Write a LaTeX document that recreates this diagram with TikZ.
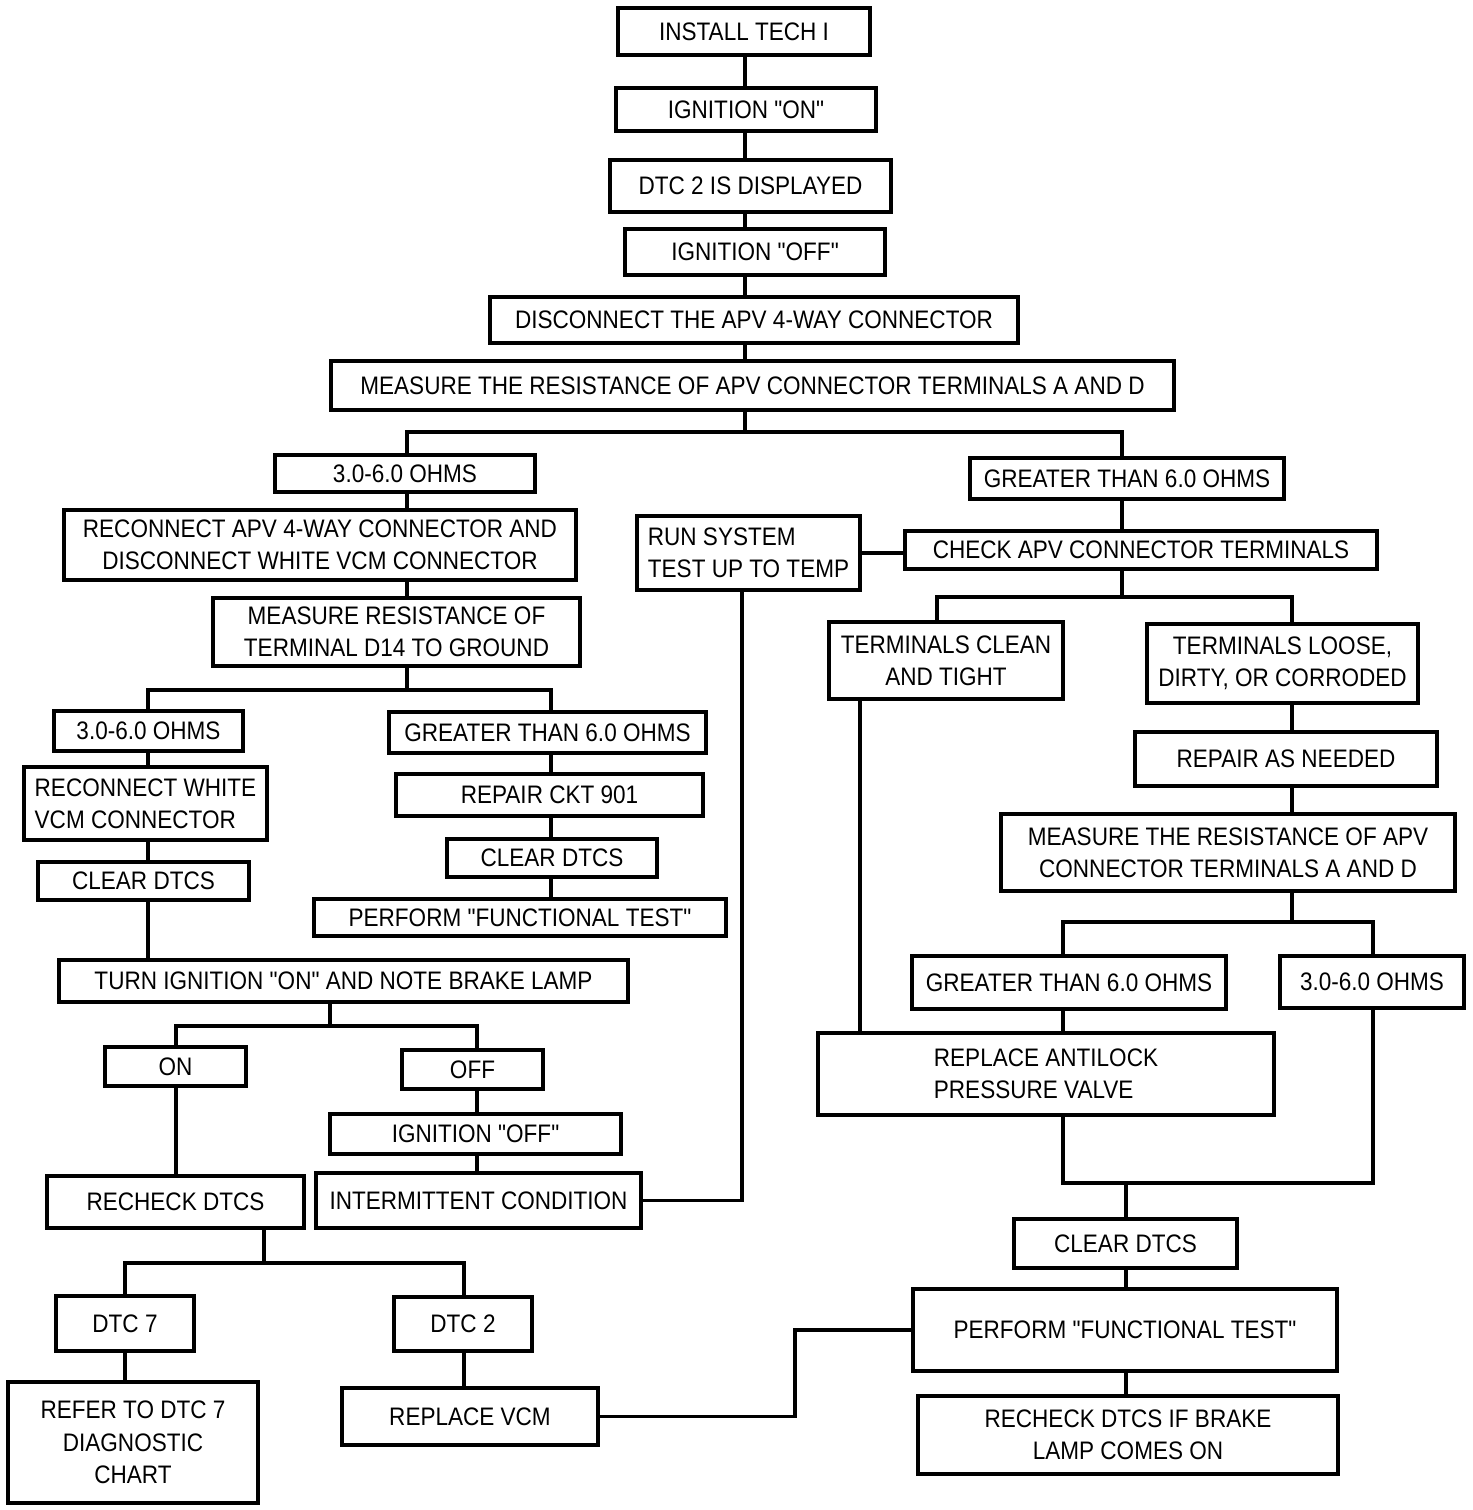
\documentclass[tikz,border=0pt]{standalone}
\usepackage{fontspec}
\newfontfamily\flowfont[FakeStretch=0.89]{Liberation Sans}
\begin{document}
\begin{tikzpicture}[x=0.01cm, y=-0.01cm,
    blk/.style={draw, line width=0.9pt, inner sep=1pt, align=center, font=\flowfont\fontsize{7.2}{9.2}\selectfont},
    wh/.style 2 args={minimum width=#1*0.01cm, minimum height=#2*0.01cm},
    ln/.style={line width=0.9pt}
  ]
  \useasboundingbox (0,0) rectangle (1472,1510);
  % main column
  \node[blk, wh={252}{47}] (install) at (744,31.5) {INSTALL TECH I};
  \node[blk, wh={260}{43}] (ignon) at (746,109.5) {IGNITION "ON"};
  \node[blk, wh={281}{52}] (dtcshown) at (750.5,186) {DTC 2 IS DISPLAYED};
  \node[blk, wh={260}{46}] (ignoff) at (755,252) {IGNITION "OFF"};
  \node[blk, wh={528}{46}] (disconn) at (754,320) {DISCONNECT THE APV 4-WAY CONNECTOR};
  \node[blk, wh={843}{49}] (measad) at (752.5,385.5) {MEASURE THE RESISTANCE OF APV CONNECTOR TERMINALS A AND D};
  % left branch
  \node[blk, wh={260}{37}] (lowa) at (405,473.5) {3.0-6.0 OHMS};
  \node[blk, wh={512}{70}] (reconapv) at (320,545) {RECONNECT APV 4-WAY CONNECTOR AND\\DISCONNECT WHITE VCM CONNECTOR};
  \node[blk, wh={367}{68}] (measd) at (396.5,632) {MEASURE RESISTANCE OF\\TERMINAL D14 TO GROUND};
  \node[blk, wh={189}{40}] (lowb) at (148.5,731) {3.0-6.0 OHMS};
  \node[blk, wh={317}{41}] (highb) at (547.5,732.5) {GREATER THAN 6.0 OHMS};
  \node[blk, wh={243}{73}, align=left] (reconvcm) at (145.5,803.5) {RECONNECT WHITE\\VCM CONNECTOR};
  \node[blk, wh={307}{42}] (repckt) at (549.5,795) {REPAIR CKT 901};
  \node[blk, wh={210}{38}] (clrb) at (552,858) {CLEAR DTCS};
  \node[blk, wh={412}{37}] (functb) at (520,917.5) {PERFORM "FUNCTIONAL TEST"};
  \node[blk, wh={211}{38}] (clra) at (143.5,881) {CLEAR DTCS};
  \node[blk, wh={569}{42}] (turnon) at (343.5,981) {TURN IGNITION "ON" AND NOTE BRAKE LAMP};
  \node[blk, wh={141}{39}] (lampon) at (175.5,1066.5) {ON};
  \node[blk, wh={141}{39}] (lampoff) at (472.5,1069.5) {OFF};
  \node[blk, wh={291}{40}] (ignoffb) at (475.5,1134) {IGNITION "OFF"};
  \node[blk, wh={325}{55}] (intermit) at (478.5,1200.5) {INTERMITTENT CONDITION};
  \node[blk, wh={257}{52}] (recheck) at (175.5,1202) {RECHECK DTCS};
  \node[blk, wh={138}{55}] (dtcseven) at (125,1323.5) {DTC 7};
  \node[blk, wh={138}{54}] (dtctwo) at (463,1324) {DTC 2};
  \node[blk, wh={250}{121}] (refer) at (133,1442.5) {REFER TO DTC 7\\DIAGNOSTIC\\CHART};
  \node[blk, wh={256}{57}] (replvcm) at (470,1416.5) {REPLACE VCM};
  % middle
  \node[blk, wh={223}{74}, align=left] (runtest) at (748.5,553) {RUN SYSTEM\\TEST UP TO TEMP};
  % right branch
  \node[blk, wh={314}{41}] (higha) at (1127,478.5) {GREATER THAN 6.0 OHMS};
  \node[blk, wh={472}{38}] (checkapv) at (1141,550) {CHECK APV CONNECTOR TERMINALS};
  \node[blk, wh={234}{77}] (clean) at (946,660.5) {TERMINALS CLEAN\\AND TIGHT};
  \node[blk, wh={271}{79}] (loose) at (1282.5,663.5) {TERMINALS LOOSE,\\DIRTY, OR CORRODED};
  \node[blk, wh={302}{54}] (repneed) at (1286,759) {REPAIR AS NEEDED};
  \node[blk, wh={454}{77}] (measadb) at (1228,852.5) {MEASURE THE RESISTANCE OF APV\\CONNECTOR TERMINALS A AND D};
  \node[blk, wh={314}{53}] (highc) at (1069,982.5) {GREATER THAN 6.0 OHMS};
  \node[blk, wh={184}{52}] (lowc) at (1372,982) {3.0-6.0 OHMS};
  \node[blk, wh={456}{82}, align=left] (replapv) at (1046,1074) {REPLACE ANTILOCK\\PRESSURE VALVE};
  \node[blk, wh={223}{49}] (clrc) at (1125.5,1243.5) {CLEAR DTCS};
  \node[blk, wh={424}{82}] (functc) at (1125,1330) {PERFORM "FUNCTIONAL TEST"};
  \node[blk, wh={420}{78}] (recheckc) at (1128,1435) {RECHECK DTCS IF BRAKE\\LAMP COMES ON};
  % columns of the connectors
  \foreach \nm/\x in {cA/745, cB/407, cC/148, cD/551, cE/330, cF/176, cG/477, cH/264, cI/125, cJ/464,
      cK/742, cL/1122, cM/937, cS/860, cN/1292, cO/1063, cP/1373, cQ/1126, cR/795}
    \coordinate (\nm) at (\x,0);
  % straight links
  \foreach \c/\a/\b in {cA/install/ignon, cA/ignon/dtcshown, cA/dtcshown/ignoff, cA/ignoff/disconn,
      cA/disconn/measad, cB/lowa/reconapv, cB/reconapv/measd, cC/lowb/reconvcm, cC/reconvcm/clra,
      cC/clra/turnon, cD/highb/repckt, cD/repckt/clrb, cD/clrb/functb, cF/lampon/recheck,
      cG/lampoff/ignoffb, cG/ignoffb/intermit, cI/dtcseven/refer, cJ/dtctwo/replvcm,
      cL/higha/checkapv, cS/clean/replapv, cN/loose/repneed, cN/repneed/measadb,
      cO/highc/replapv, cQ/clrc/functc, cQ/functc/recheckc}
    \draw[ln] (\c |- \a.south) -- (\c |- \b.north);
  % forks
  \draw[ln] (cA |- measad.south) -- (cA |- 0,432);
  \draw[ln] (cB |- lowa.north) |- (cL |- 0,432) -- (cL |- higha.north);
  \draw[ln] (cB |- measd.south) -- (cB |- 0,690);
  \draw[ln] (cC |- lowb.north) |- (cD |- 0,690) -- (cD |- highb.north);
  \draw[ln] (cE |- turnon.south) -- (cE |- 0,1026);
  \draw[ln] (cF |- lampon.north) |- (cG |- 0,1026) -- (cG |- lampoff.north);
  \draw[ln] (cH |- recheck.south) -- (cH |- 0,1263);
  \draw[ln] (cI |- dtcseven.north) |- (cJ |- 0,1263) -- (cJ |- dtctwo.north);
  \draw[ln] (cL |- checkapv.south) -- (cL |- 0,597);
  \draw[ln] (cM |- clean.north) |- (cN |- 0,597) -- (cN |- loose.north);
  \draw[ln] (cN |- measadb.south) -- (cN |- 0,922);
  \draw[ln] (cO |- highc.north) |- (cP |- 0,922) -- (cP |- lowc.north);
  \draw[ln] (cO |- replapv.south) |- (cP |- 0,1183) -- (cP |- lowc.south);
  \draw[ln] (cQ |- 0,1183) -- (cQ |- clrc.north);
  % side links
  \draw[ln] (runtest.east) -- (runtest.east -| checkapv.west);
  \draw[ln] (cK |- runtest.south) |- (intermit.east);
  \draw[ln] (replvcm.east) -| (cR |- functc.west) -- (functc.west);
\end{tikzpicture}
\end{document}
